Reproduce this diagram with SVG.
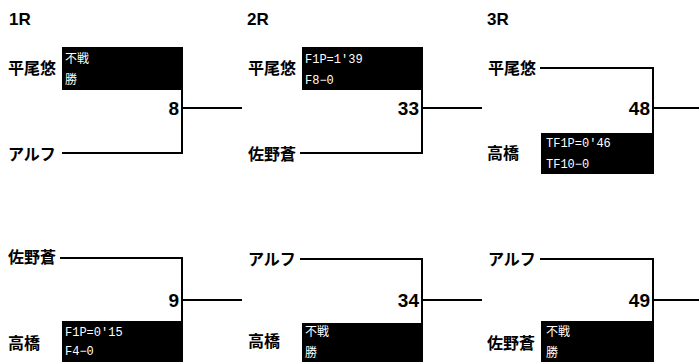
<svg xmlns="http://www.w3.org/2000/svg" width="699" height="362" viewBox="0 0 699 362">
<style>
.rd{font-family:"Liberation Sans",Arial,sans-serif;font-weight:bold;font-size:17px;fill:#000}
.nm{font-family:"Noto Sans CJK JP","Liberation Sans",sans-serif;font-weight:bold;font-size:16px;fill:#000;dominant-baseline:central}
.num{font-family:"Liberation Sans",Arial,sans-serif;font-weight:bold;font-size:19px;fill:#000;text-anchor:end}
.bx{fill:#000}
.bt{font-family:"Liberation Mono","Noto Sans CJK JP",monospace;font-size:12px;fill:#fff}
.ln{stroke:#000;stroke-width:2;fill:none}
</style>
<rect width="699" height="362" fill="#fff"/>
<g id="rounds">
<text class="rd" x="9" y="25">1R</text>
<text class="rd" x="247" y="25">2R</text>
<text class="rd" x="487" y="25">3R</text>
</g>
<g id="connectors">
<path class="ln" d="M62 153 H182 V47"/>
<path class="ln" d="M183 108 H242"/>
<path class="ln" d="M60 258 H182 V322"/>
<path class="ln" d="M183 300 H242"/>
<path class="ln" d="M300 153 H422 V47"/>
<path class="ln" d="M423 108 H482"/>
<path class="ln" d="M300 259 H422 V323"/>
<path class="ln" d="M423 300 H482"/>
<path class="ln" d="M540 68 H653 V133"/>
<path class="ln" d="M654 108 H699"/>
<path class="ln" d="M540 259 H653 V321"/>
<path class="ln" d="M654 300 H699"/>
</g>
<g id="m8">
<text class="nm" x="8" y="67">平尾悠</text>
<rect class="bx" x="62" y="47" width="121" height="43"/>
<text class="bt" x="65" y="63">不戦</text>
<text class="bt" x="65" y="84">勝</text>
<text class="nm" x="8" y="153">アルフ</text>
<text class="num" x="179" y="115">8</text>
</g>
<g id="m9">
<text class="nm" x="8" y="256">佐野蒼</text>
<text class="nm" x="8" y="342">高橋</text>
<rect class="bx" x="62" y="321" width="121" height="41"/>
<text class="bt" x="65" y="336">F1P=0'15</text>
<text class="bt" x="65" y="355">F4−0</text>
<text class="num" x="179" y="307">9</text>
</g>
<g id="m33">
<text class="nm" x="248" y="67">平尾悠</text>
<rect class="bx" x="302" y="47" width="121" height="43"/>
<text class="bt" x="305" y="63">F1P=1'39</text>
<text class="bt" x="305" y="84">F8−0</text>
<text class="nm" x="248" y="153">佐野蒼</text>
<text class="num" x="419" y="115">33</text>
</g>
<g id="m34">
<text class="nm" x="248" y="258">アルフ</text>
<text class="nm" x="248" y="340">高橋</text>
<rect class="bx" x="302" y="323" width="121" height="39"/>
<text class="bt" x="305" y="336">不戦</text>
<text class="bt" x="305" y="357">勝</text>
<text class="num" x="419" y="307">34</text>
</g>
<g id="m48">
<text class="nm" x="488" y="67">平尾悠</text>
<text class="nm" x="487" y="152">高橋</text>
<rect class="bx" x="541" y="133" width="113" height="41"/>
<text class="bt" x="546" y="147">TF1P=0'46</text>
<text class="bt" x="546" y="168">TF10−0</text>
<text class="num" x="650" y="115">48</text>
</g>
<g id="m49">
<text class="nm" x="488" y="258">アルフ</text>
<text class="nm" x="487" y="342">佐野蒼</text>
<rect class="bx" x="541" y="321" width="113" height="41"/>
<text class="bt" x="546" y="336">不戦</text>
<text class="bt" x="546" y="357">勝</text>
<text class="num" x="650" y="307">49</text>
</g>
</svg>
